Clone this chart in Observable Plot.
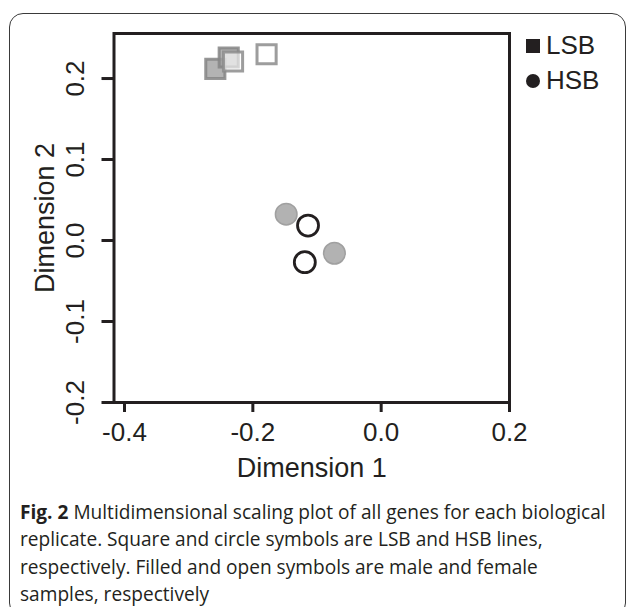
<!DOCTYPE html>
<html>
<head>
<meta charset="utf-8">
<script src="https://cdn.jsdelivr.net/npm/d3@7"></script>
<script src="https://cdn.jsdelivr.net/npm/@observablehq/plot@0.6"></script>
<style>
  html, body { margin: 0; padding: 0; background: #fff; }
  body { width: 627px; height: 607px; position: relative; overflow: hidden; }
  #box { position: absolute; left: 9px; top: 13px; width: 617px; height: 604px;
         border: 1.5px solid #3a3a3a; border-radius: 14px; box-sizing: border-box; }
  #chart { position: absolute; left: 0; top: 0; }
  #legend { position: absolute; left: 526px; top: 28px; font-family: "Liberation Sans", Arial, sans-serif;
            font-size: 26px; color: #231f20; line-height: 35px; }
  #legend .row { display: flex; align-items: center; }
  #legend .sym { width: 14px; height: 14px; background: #231f20; margin-right: 6px; }
  #legend .sym.c { border-radius: 50%; }
  #caption { position: absolute; left: 20px; top: 499px; font-family: "Open Sans", sans-serif;
             font-size: 19.1px; line-height: 27.3px; color: #231f20; white-space: nowrap; }
</style>
</head>
<body>
<div id="box"></div>
<div id="chart"></div>
<div id="legend"></div>
<div id="caption"></div>
<script>
// Data
const groups = ["LSB", "LSB", "LSB", "LSB", "HSB", "HSB", "HSB", "HSB"];
const sexes = ["male", "male", "female", "female", "male", "male", "female", "female"];
const dim1 = [-0.2585, -0.2376, -0.2309, -0.1786, -0.148, -0.0729, -0.114, -0.119];
const dim2 = [0.212, 0.226, 0.221, 0.230, 0.0325, -0.0157, 0.0185, -0.0268];
const xTicks = [-0.4, -0.2, 0.0, 0.2];
const yTicks = [-0.2, -0.1, 0.0, 0.1, 0.2];
const legendItems = ["LSB", "HSB"];
const captionLines = [
  "Multidimensional scaling plot of all genes for each biological",
  "replicate. Square and circle symbols are LSB and HSB lines,",
  "respectively. Filled and open symbols are male and female",
  "samples, respectively"
];

const data = groups.map((g, i) => ({group: g, sex: sexes[i], x: dim1[i], y: dim2[i]}));
const sel = (g, s) => data.filter(d => d.group === g && d.sex === s);
const ink = "#231f20";
const fmt = d3.format(".1f");
const fmtMinus = d => fmt(d).replace("−", "-");

const H = 490;
const chart = Plot.plot({
  width: 627,
  height: H,
  marginLeft: 113.5,
  marginRight: 118,
  marginTop: 33,
  marginBottom: H - 402,
  style: {fontFamily: "'Liberation Sans', Arial, sans-serif", fontSize: "26px", color: ink, background: "transparent", overflow: "visible"},
  x: {domain: [-0.4164, 0.2]},
  y: {domain: [-0.2, 0.2556]},
  marks: [
    Plot.frame({stroke: ink, strokeWidth: 3}),
    Plot.axisX({ticks: xTicks, tickFormat: fmtMinus, tickSize: 10, tickPadding: 10, stroke: ink, strokeWidth: 3,
      fontSize: 26, label: null}),
    Plot.axisY({ticks: yTicks, tickFormat: fmtMinus, tickSize: 12, tickRotate: -90, tickPadding: 18, stroke: ink, strokeWidth: 3,
      fontSize: 26, label: null}),
    Plot.axisX({ticks: [], label: "Dimension 1", labelAnchor: "center", labelArrow: "none", labelOffset: 74, fontSize: 27}),
    Plot.axisY({ticks: [], label: "Dimension 2", labelAnchor: "center", labelArrow: "none", labelOffset: 79, fontSize: 27}),
    // LSB squares
    Plot.dot(sel("LSB", "male"), {x: "x", y: "y", symbol: "square", r: 10.8, fill: "#a0a0a0", fillOpacity: 0.8, stroke: "#858585", strokeOpacity: 0.85, strokeWidth: 3}),
    Plot.dot(sel("LSB", "female"), {x: "x", y: "y", symbol: "square", r: 10.8, fill: "#ffffff", fillOpacity: 0.6, stroke: "#8c8c8c", strokeOpacity: 0.85, strokeWidth: 3}),
    // HSB circles
    Plot.dot(sel("HSB", "male"), {x: "x", y: "y", symbol: "circle", r: 10.8, fill: "#b2b2b2", stroke: "#a0a0a0", strokeWidth: 1.5}),
    Plot.dot(sel("HSB", "female"), {x: "x", y: "y", symbol: "circle", r: 10.5, fill: "#ffffff", stroke: ink, strokeWidth: 2.8})
  ]
});
document.getElementById("chart").appendChild(chart);

const legend = document.getElementById("legend");
legendItems.forEach((name, i) => {
  const row = document.createElement("div");
  row.className = "row";
  const s = document.createElement("span");
  s.className = i === 0 ? "sym" : "sym c";
  row.appendChild(s);
  row.appendChild(document.createTextNode(name));
  legend.appendChild(row);
});

const cap = document.getElementById("caption");
cap.innerHTML = "<b>Fig. 2</b> " + captionLines.join("<br>");
</script>
</body>
</html>
